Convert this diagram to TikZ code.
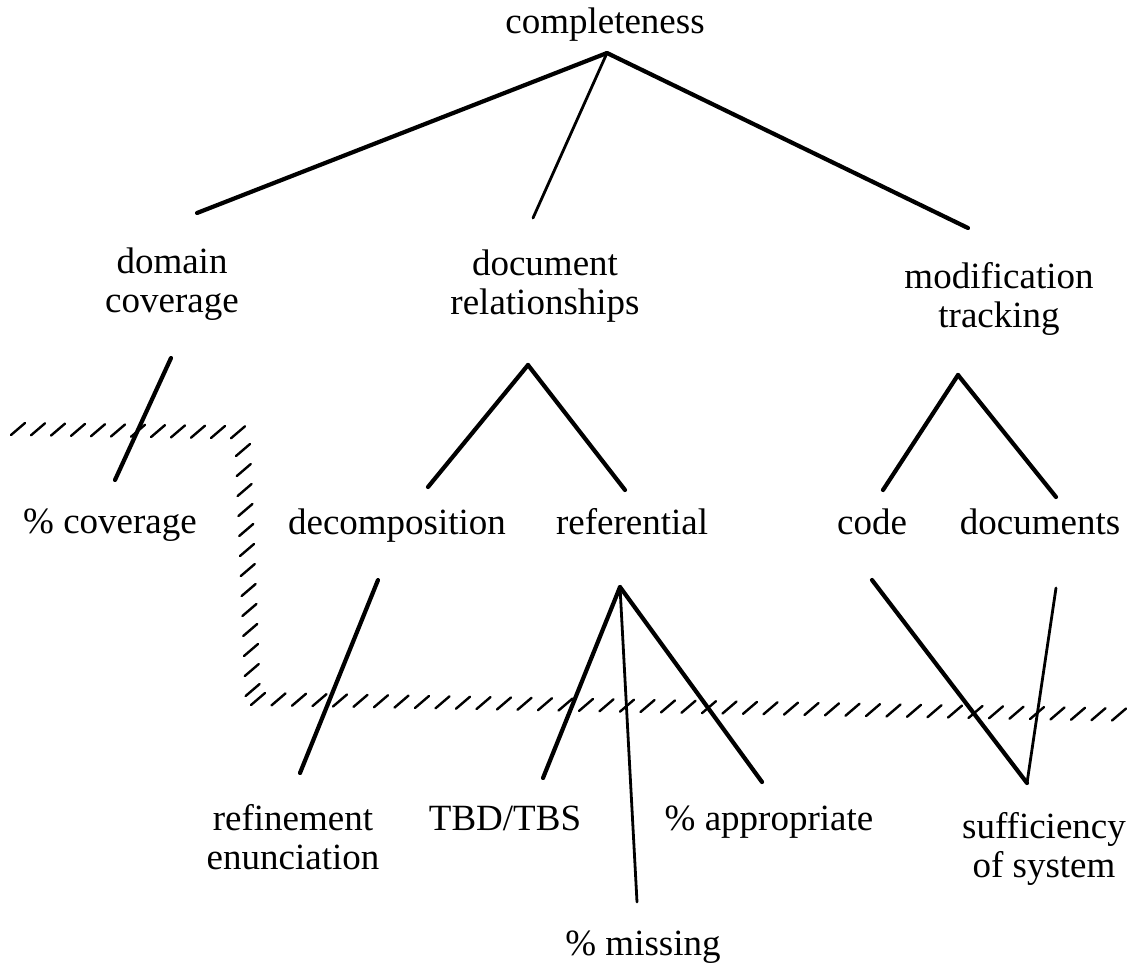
\documentclass[tikz,border=0pt]{standalone}
\usepackage{fontspec}
\setmainfont{Liberation Serif}
\begin{document}
\begin{tikzpicture}[x=1pt,y=-1pt,
  lbl/.style={inner sep=0pt, font=\fontsize{37}{39}\selectfont, align=center},
  branch/.style={line width=4.2pt, line cap=round},
  thinbranch/.style={line width=2.8pt, line cap=round},
  hatchmark/.style={line width=2.4pt, line cap=round}]
\useasboundingbox (0,0) rectangle (1134,969);

% ---- labels ----
\node[lbl, anchor=base] (completeness) at (605,33) {completeness};
\node[lbl] (domain) at (172,284) {domain\\coverage};
\node[lbl] (docrel) at (545,286) {document\\relationships};
\node[lbl] (modtrack) at (999,299) {modification\\tracking};
\node[lbl, anchor=base] (pcov) at (110,533) {\% coverage};
\node[lbl, anchor=base] (decomp) at (397,534) {decomposition};
\node[lbl, anchor=base] (referential) at (632,534) {referential};
\node[lbl, anchor=base] (code) at (872,534) {code};
\node[lbl, anchor=base] (documents) at (1040,534) {documents};
\node[lbl] (refine) at (293,837) {refinement\\enunciation};
\node[lbl, anchor=base] (tbd) at (505,830) {TBD/TBS};
\node[lbl, anchor=base] (approp) at (769,830) {\% appropriate};
\node[lbl] (suff) at (1044,849) {sufficiency\\of system};
\node[lbl, anchor=base] (missing) at (643,955) {\% missing};

% ---- branch end points ----
\coordinate (completeness-out) at (607,53);
\coordinate (domain-in) at (197,213);
\coordinate (docrel-in) at (533,218);
\coordinate (modtrack-in) at (968,228);
\coordinate (domain-out) at (171,358);
\coordinate (pcov-in) at (115,480);
\coordinate (docrel-out) at (528,365);
\coordinate (decomp-in) at (428,487);
\coordinate (referential-in) at (625,490);
\coordinate (modtrack-out) at (958,375);
\coordinate (code-in) at (883,490);
\coordinate (documents-in) at (1056,497);
\coordinate (decomp-out) at (378,580);
\coordinate (refine-in) at (300,773);
\coordinate (referential-out) at (620,587);
\coordinate (tbd-in) at (543,778);
\coordinate (missing-in) at (637,902);
\coordinate (approp-in) at (762,782);
\coordinate (code-out) at (872,580);
\coordinate (documents-out) at (1056,588);
\coordinate (suff-in) at (1027,783);

% ---- tree branches ----
\draw[branch] (completeness-out) -- (domain-in);
\draw[thinbranch] (completeness-out) -- (docrel-in);
\draw[branch] (completeness-out) -- (modtrack-in);
\draw[branch] (domain-out) -- (pcov-in);
\draw[branch] (docrel-out) -- (decomp-in);
\draw[branch] (docrel-out) -- (referential-in);
\draw[branch] (modtrack-out) -- (code-in);
\draw[branch] (modtrack-out) -- (documents-in);
\draw[branch] (decomp-out) -- (refine-in);
\draw[branch] (referential-out) -- (tbd-in);
\draw[thinbranch] (referential-out) -- (missing-in);
\draw[branch] (referential-out) -- (approp-in);
\draw[branch] (code-out) -- (suff-in);
\draw[thinbranch] (documents-out) -- (suff-in);

% ---- hatched boundary ----
\foreach \i in {0,...,11}
  \draw[hatchmark] ({18+20*\i},{429+0.3*\i}) ++(-7,6) -- ++(14,-12);
\foreach \i in {0,...,12}
  \draw[hatchmark] ({243+0.8*\i},{450+20*\i}) ++(-7,6) -- ++(14,-12);
\foreach \i in {0,...,42}
  \draw[hatchmark] ({258+20.5*\i},{699+0.37*\i}) ++(-7,6) -- ++(14,-12);
\end{tikzpicture}
\end{document}
